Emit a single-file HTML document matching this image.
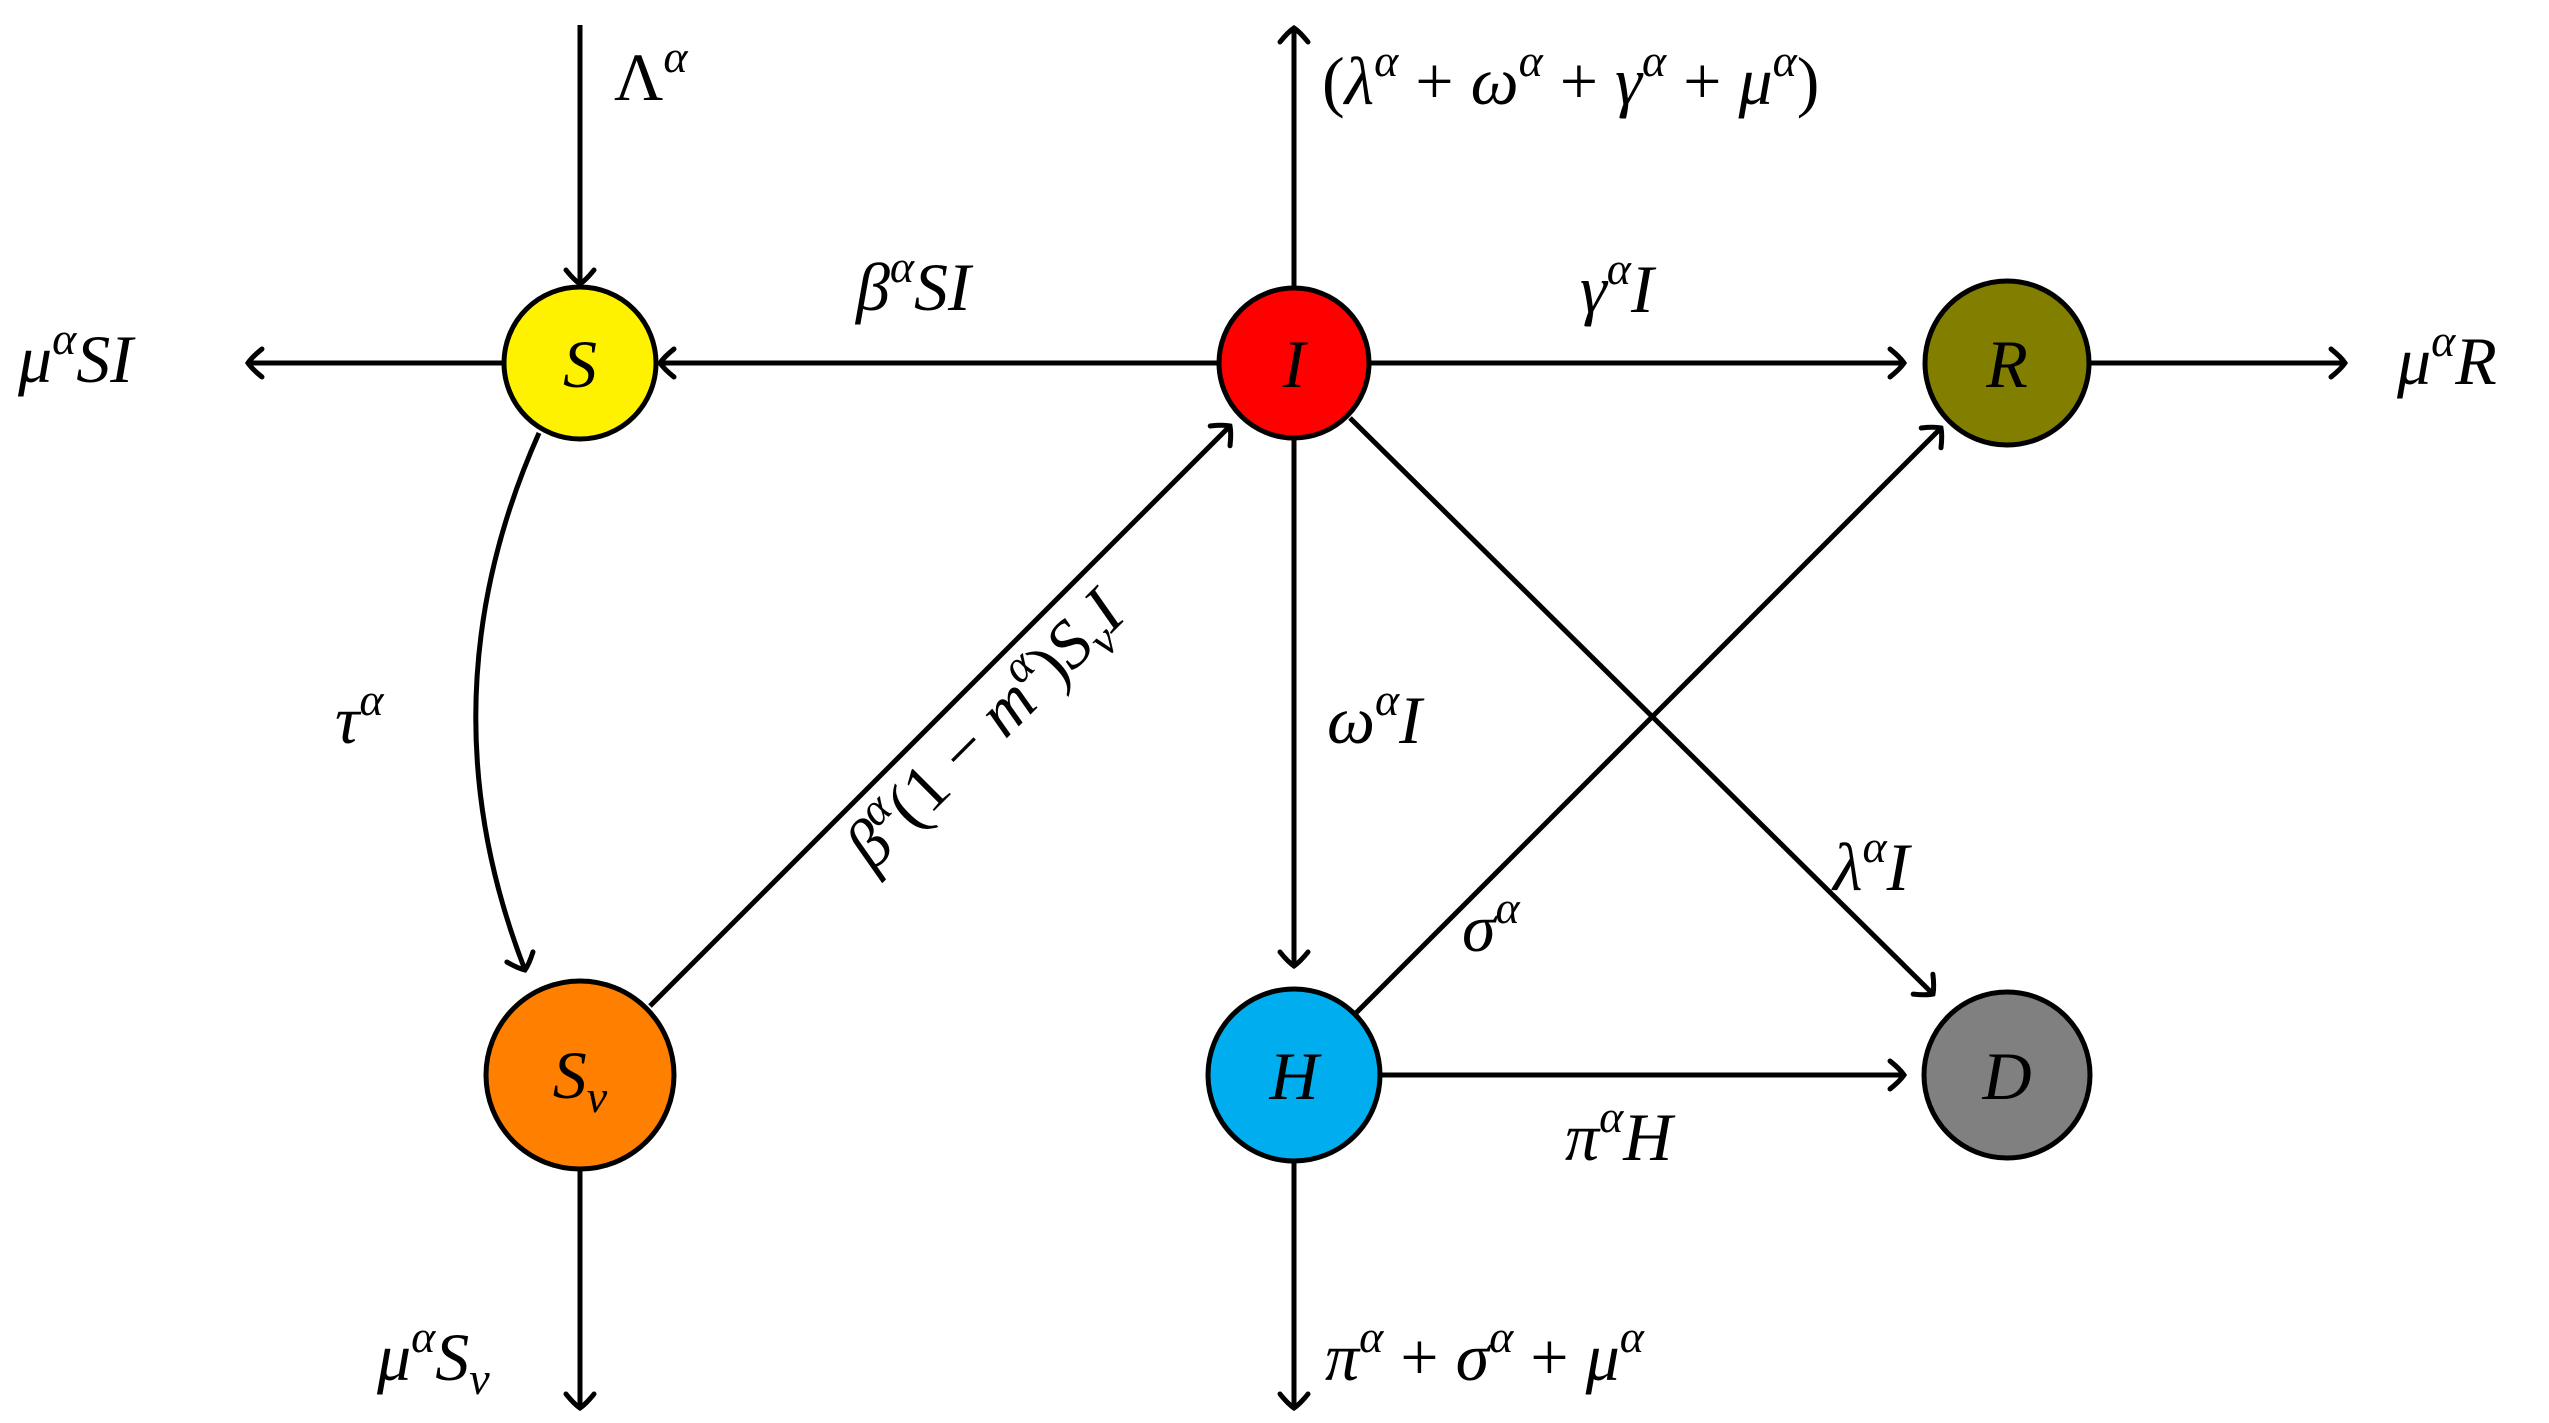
<!DOCTYPE html>
<html><head><meta charset="utf-8"><style>
html,body{margin:0;padding:0;background:#fff;}
svg{display:block;}
text{font-family:"Liberation Serif",serif;font-style:italic;font-size:68px;fill:#000;}
.sup{font-size:46px;}
.up{font-style:normal;}
</style></head><body>
<svg width="2549" height="1423" viewBox="0 0 2549 1423" xmlns="http://www.w3.org/2000/svg">
<defs>
<marker id="a" markerUnits="userSpaceOnUse" markerWidth="40" markerHeight="40" refX="20" refY="20" orient="auto" overflow="visible">
<path d="M6 6 Q16 14 20 20 Q16 26 6 34" fill="none" stroke="#000" stroke-width="5" stroke-linecap="round"/>
</marker>
</defs>
<g stroke="#000" stroke-width="5" fill="none">
<!-- S -->
<line x1="580" y1="25" x2="580" y2="284" marker-end="url(#a)"/>
<line x1="503" y1="363" x2="248" y2="363" marker-end="url(#a)"/>
<line x1="1219" y1="363" x2="660" y2="363" marker-end="url(#a)"/>
<path d="M539 433 Q420 700 525 970" marker-end="url(#a)"/>
<!-- I -->
<line x1="1294" y1="288" x2="1294" y2="28" marker-end="url(#a)"/>
<line x1="1369" y1="363" x2="1904" y2="363" marker-end="url(#a)"/>
<line x1="1294" y1="438" x2="1294" y2="966" marker-end="url(#a)"/>
<line x1="1350" y1="418" x2="1933" y2="994" marker-end="url(#a)"/>
<!-- Sv -> I -->
<line x1="650" y1="1006" x2="1230" y2="426" marker-end="url(#a)"/>
<!-- H -> R -->
<line x1="1356" y1="1013" x2="1941" y2="428" marker-end="url(#a)"/>
<!-- R right -->
<line x1="2089" y1="363" x2="2345" y2="363" marker-end="url(#a)"/>
<!-- H -> D -->
<line x1="1380" y1="1075" x2="1904" y2="1075" marker-end="url(#a)"/>
<!-- down arrows -->
<line x1="1294" y1="1161" x2="1294" y2="1408" marker-end="url(#a)"/>
<line x1="580" y1="1170" x2="580" y2="1408" marker-end="url(#a)"/>
</g>
<g stroke="#000" stroke-width="5">
<circle cx="580" cy="363" r="76" fill="#fff200"/>
<circle cx="1294" cy="363" r="75" fill="#ff0000"/>
<circle cx="2007" cy="363" r="82" fill="#827f00"/>
<circle cx="580" cy="1075" r="94" fill="#ff7f00"/>
<circle cx="1294" cy="1075" r="86" fill="#00aeef"/>
<circle cx="2007" cy="1075" r="83" fill="#808080"/>
</g>
<text x="580" y="387" text-anchor="middle">S</text>
<text x="1294" y="387" text-anchor="middle">I</text>
<text x="2007" y="387" text-anchor="middle">R</text>
<text x="580" y="1098" text-anchor="middle">S<tspan class="sup" dy="14">v</tspan></text>
<text x="1294" y="1099" text-anchor="middle">H</text>
<text x="2007" y="1099" text-anchor="middle">D</text>

<text x="614" y="100"><tspan class="up">Λ</tspan><tspan class="sup" dy="-28">α</tspan></text>
<text x="18" y="382">μ<tspan class="sup" dy="-28">α</tspan><tspan dy="28">SI</tspan></text>
<text x="856" y="310">β<tspan class="sup" dy="-28">α</tspan><tspan dy="28">SI</tspan></text>
<text x="1580" y="312">γ<tspan class="sup" dy="-28">α</tspan><tspan dy="28">I</tspan></text>
<text x="2397" y="384">μ<tspan class="sup" dy="-28">α</tspan><tspan dy="28">R</tspan></text>
<text x="1322" y="104"><tspan class="up">(</tspan>λ<tspan class="sup" dy="-28">α</tspan><tspan class="up" dy="28"> + </tspan>ω<tspan class="sup" dy="-28">α</tspan><tspan class="up" dy="28"> + </tspan>γ<tspan class="sup" dy="-28">α</tspan><tspan class="up" dy="28"> + </tspan>μ<tspan class="sup" dy="-28">α</tspan><tspan class="up" dy="28">)</tspan></text>
<text x="335" y="743">τ<tspan class="sup" dy="-28">α</tspan></text>
<text x="1327" y="743">ω<tspan class="sup" dy="-28">α</tspan><tspan dy="28">I</tspan></text>
<text x="1833" y="890">λ<tspan class="sup" dy="-28">α</tspan><tspan dy="28">I</tspan></text>
<text x="1462" y="951">σ<tspan class="sup" dy="-28">α</tspan></text>
<text x="1565" y="1160">π<tspan class="sup" dy="-28">α</tspan><tspan dy="28">H</tspan></text>
<text x="1325" y="1380">π<tspan class="sup" dy="-28">α</tspan><tspan class="up" dy="28"> + </tspan>σ<tspan class="sup" dy="-28">α</tspan><tspan class="up" dy="28"> + </tspan>μ<tspan class="sup" dy="-28">α</tspan></text>
<text x="377" y="1380">μ<tspan class="sup" dy="-28">α</tspan><tspan dy="28">S</tspan><tspan class="sup" dy="14">v</tspan></text>
<text x="0" y="0" text-anchor="middle" transform="translate(1000,745) rotate(-45)">β<tspan class="sup" dy="-28">α</tspan><tspan class="up" dy="28">(1 − </tspan>m<tspan class="sup" dy="-28">α</tspan><tspan class="up" dy="28">)</tspan>S<tspan class="sup" dy="14">v</tspan><tspan dy="-14">I</tspan></text>
</svg>
</body></html>
